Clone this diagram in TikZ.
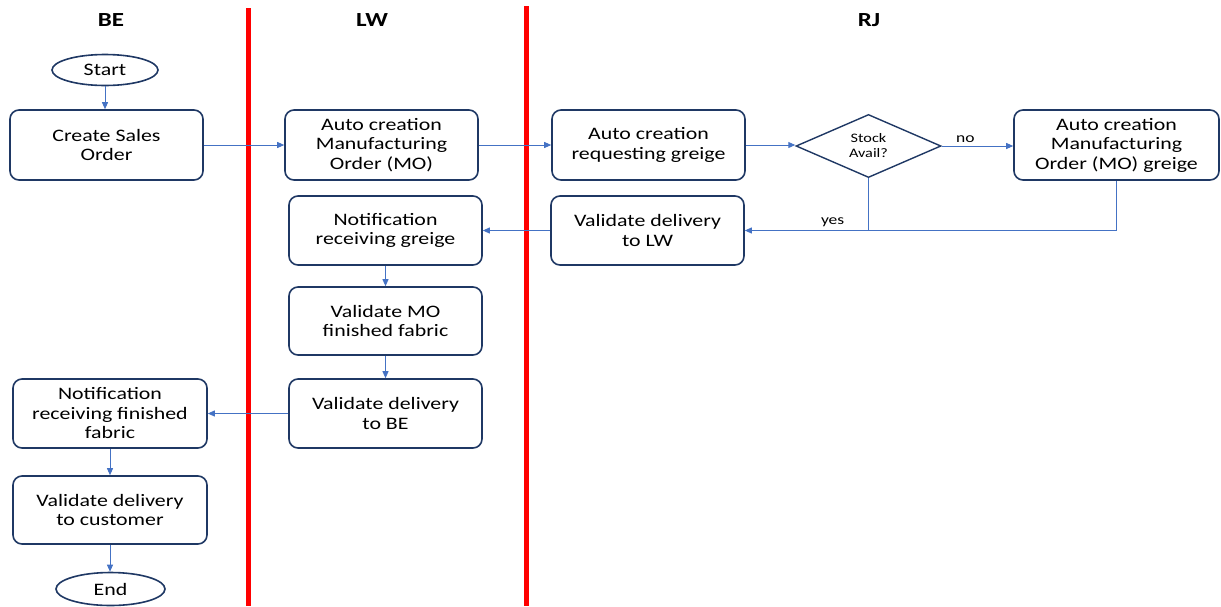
\documentclass[tikz,border=0pt]{standalone}
\usepackage{fontspec}
\setmainfont{Carlito}[FakeStretch=1.25]
\usetikzlibrary{shapes.geometric,arrows.meta}
\definecolor{boxline}{HTML}{1F3864}
\definecolor{conn}{HTML}{4472C4}
\definecolor{lane}{HTML}{FF0000}
\tikzset{
  procbox/.style={draw=boxline,line width=1.6pt,rounded corners=9pt,align=center,
    font=\fontsize{17.5}{19.5}\selectfont,inner sep=0pt},
  termnode/.style={draw=boxline,line width=1.6pt,ellipse,inner sep=0pt,
    font=\fontsize{17.5}{19.5}\selectfont},
  decnode/.style={draw=boxline,line width=1.4pt,diamond,inner sep=0pt,align=center,
    font=\fontsize{13}{15}\selectfont},
  flow/.style={draw=conn,line width=0.9pt,-{Triangle[length=7pt,width=6pt]}},
  flowline/.style={draw=conn,line width=0.9pt},
  lanetitle/.style={font=\bfseries\fontsize{20}{22}\selectfont},
  laneline/.style={draw=lane,line width=5pt},
  lbl/.style={font=\fontsize{14}{16}\selectfont}
}
\newcommand{\boxat}[6]{\node[procbox,minimum width=#3pt,minimum height=#4pt] (#5) at (#1,#2) {#6};}
\begin{document}
\begin{tikzpicture}[x=1pt,y=-1pt]
\useasboundingbox (0,0) rectangle (1221,606);
% lanes
\node[lanetitle] (tbe) at (111,20) {BE};
\node[lanetitle] (tlw) at (372,20) {LW};
\node[lanetitle] (trj) at (869,20) {RJ};
\coordinate (l1t) at (248,8); \coordinate (l1b) at (248,606);
\coordinate (l2t) at (526,6); \coordinate (l2b) at (526,606);
\draw[laneline] (l1t) -- (l1b);
\draw[laneline] (l2t) -- (l2b);
% nodes
\node[termnode,minimum width=106pt,minimum height=31pt] (start) at (105,70) {Start};
\boxat{106.5}{145}{193}{70}{cso}{Create Sales\\Order}
\boxat{381.5}{145}{193}{70}{amo}{Auto creation\\Manufacturing\\Order (MO)}
\boxat{648.5}{145}{193}{70}{arg}{Auto creation\\requesting greige}
\node[decnode,minimum width=145pt,minimum height=50pt] (stock) at (868.5,146) {Stock\\Avail?};
\boxat{1116.5}{145}{205}{70}{amg}{Auto creation\\Manufacturing\\Order (MO) greige}
\boxat{385.5}{230.5}{193}{69}{nrg}{Notification\\receiving greige}
\boxat{647.5}{230.5}{193}{69}{vlw}{Validate delivery\\to LW}
\boxat{385.5}{321}{193}{68}{vmo}{Validate MO\\finished fabric}
\boxat{385.5}{413.5}{193}{69}{vbe}{Validate delivery\\to BE}
\boxat{110}{413.5}{194}{69}{nrf}{Notification\\receiving finished\\fabric}
\boxat{110}{510}{194}{68}{vcu}{Validate delivery\\to customer}
\node[termnode,minimum width=109pt,minimum height=33pt] (end) at (110.5,589) {End};
% connectors
\coordinate (join) at (stock.south |- vlw.east);
\draw[flow] (start) -- (start.south |- cso.north);
\draw[flow] (cso.east) -- (cso.east -| amo.west);
\draw[flow] (amo.east) -- (amo.east -| arg.west);
\draw[flow] (arg.east) -- (arg.east -| stock.west);
\draw[flow] (stock.east) -- node[lbl,above,pos=0.33] {no} (stock.east -| amg.west);
\draw[flow] (stock.south) -- (join) -- node[lbl,above,pos=0.29] {yes} (vlw.east);
\draw[flowline] (amg.south) |- (join);
\draw[flow] (vlw.west) -- (vlw.west -| nrg.east);
\draw[flow] (nrg.south) -- (nrg.south |- vmo.north);
\draw[flow] (vmo.south) -- (vmo.south |- vbe.north);
\draw[flow] (vbe.west) -- (vbe.west -| nrf.east);
\draw[flow] (nrf.south) -- (nrf.south |- vcu.north);
\draw[flow] (vcu.south) -- (vcu.south |- end.north);
\end{tikzpicture}
\end{document}
